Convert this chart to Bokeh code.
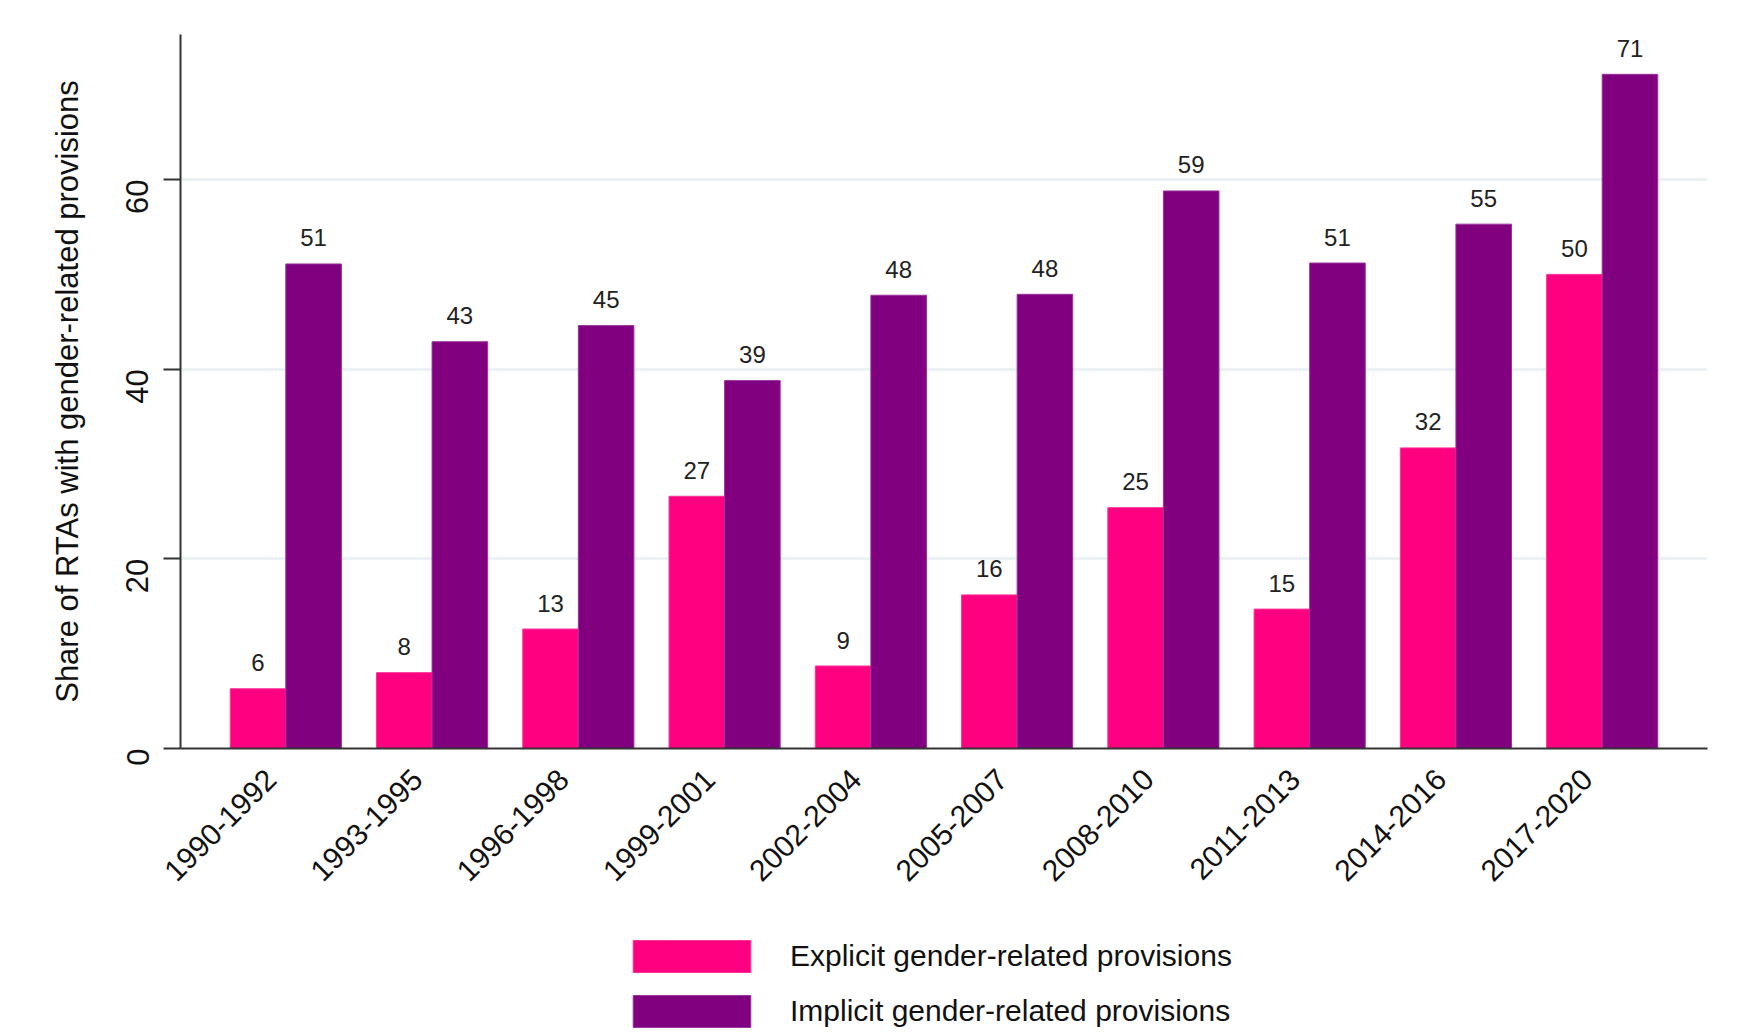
import math
from bokeh.plotting import figure
from bokeh.layouts import column
from bokeh.models import (ColumnDataSource, FixedTicker, Legend, LegendItem,
                          LinearAxis, Range1d)
from bokeh.transform import dodge
from bokeh.core.properties import value
from bokeh.embed import file_html
from bokeh.resources import INLINE

periods = ["1990-1992", "1993-1995", "1996-1998", "1999-2001", "2002-2004",
           "2005-2007", "2008-2010", "2011-2013", "2014-2016", "2017-2020"]
explicit = [6.3, 8.0, 12.6, 26.6, 8.7, 16.2, 25.4, 14.7, 31.7, 50.0]
implicit = [51.1, 42.9, 44.6, 38.8, 47.8, 47.9, 58.8, 51.2, 55.3, 71.1]
explicit_labels = ["6", "8", "13", "27", "9", "16", "25", "15", "32", "50"]
implicit_labels = ["51", "43", "45", "39", "48", "48", "59", "51", "55", "71"]
y_ticks = [0, 20, 40, 60]
series_names = ["Explicit gender-related provisions", "Implicit gender-related provisions"]

PINK = "#FF0080"
PURPLE = "#800080"
FONT = "Liberation Sans"
PAD = 0.22          # category padding on each side
LABEL_SHIFT = 0.10  # move rotated category labels slightly left of group centre

n = len(periods)
idx = list(range(n))
src = ColumnDataSource(dict(xi=idx, period=periods, explicit=explicit, implicit=implicit,
                            elab=explicit_labels, ilab=implicit_labels))

p = figure(x_range=Range1d(-0.5 - PAD, n - 0.5 + PAD),
           y_range=(0, 75.3), frame_width=1527, frame_height=714,
           output_backend="svg", toolbar_location=None,
           min_border_left=180, min_border_top=34, min_border_right=48,
           min_border_bottom=160)

bw = 0.38
r1 = p.vbar(x=dodge("xi", -bw / 2), top="explicit", width=bw,
            source=src, fill_color=PINK, line_color="#FF3399", line_width=1)
r2 = p.vbar(x=dodge("xi", bw / 2), top="implicit", width=bw,
            source=src, fill_color=PURPLE, line_color="#9A339A", line_width=1)

p.text(x=dodge("xi", -bw / 2), y="explicit", text="elab", source=src,
       text_align="center", text_baseline="alphabetic", y_offset=-26,
       text_font=value(FONT), text_font_size="24px", text_color="#222222")
p.text(x=dodge("xi", bw / 2), y="implicit", text="ilab", source=src,
       text_align="center", text_baseline="alphabetic", y_offset=-26,
       text_font=value(FONT), text_font_size="24px", text_color="#222222")

p.outline_line_color = None
p.xgrid.grid_line_color = None
p.ygrid.grid_line_color = "#EAF2F3"
p.ygrid.grid_line_width = 3
p.yaxis.ticker = FixedTicker(ticks=y_ticks)
p.xaxis.visible = False

# category label axis, nudged slightly left of the group centres
p.extra_x_ranges = {"lab": Range1d(start=-0.5 - PAD + LABEL_SHIFT,
                                   end=n - 0.5 + PAD + LABEL_SHIFT)}
xlab = LinearAxis(x_range_name="lab", ticker=FixedTicker(ticks=idx),
                  major_label_overrides={i: periods[i] for i in idx})
p.add_layout(xlab, "below")

for ax in (xlab, p.yaxis[0]):
    ax.axis_line_color = "#333333"
    ax.axis_line_width = 2
    ax.major_tick_line_color = "#333333"
    ax.major_tick_line_width = 2
    ax.minor_tick_line_color = None
    ax.major_label_text_font = FONT
    ax.major_label_text_color = "#111111"
    ax.axis_label_text_font = FONT
    ax.axis_label_text_font_style = "normal"
    ax.axis_label_text_color = "#111111"

p.yaxis.major_tick_out = 17
p.yaxis.major_tick_in = 0
p.yaxis.major_label_orientation = math.pi / 2
p.yaxis.major_label_text_font_size = "31px"
p.yaxis.major_label_standoff = 26
p.yaxis.axis_label = "Share of RTAs with gender-related provisions"
p.yaxis.axis_label_text_font_size = "31px"
p.yaxis.axis_label_standoff = 28

xlab.major_tick_line_color = None
xlab.major_label_orientation = math.pi / 4
xlab.major_label_text_font_size = "30px"
xlab.major_label_standoff = 20

# legend strip below the chart (swatch renderers sit outside the visible range)
p2 = figure(width=1755, height=123, x_range=(0, 1), y_range=(0, 1),
            output_backend="svg", toolbar_location=None,
            min_border_left=0, min_border_right=0, min_border_top=0, min_border_bottom=0)
p2.axis.visible = False
p2.grid.visible = False
p2.outline_line_color = None
k1 = p2.vbar(x=[-10], top=[-10], bottom=[-11], width=0.1,
             fill_color=PINK, line_color="#FF3399")
k2 = p2.vbar(x=[-10], top=[-10], bottom=[-11], width=0.1,
             fill_color=PURPLE, line_color="#9A339A")
legend = Legend(items=[LegendItem(label=series_names[0], renderers=[k1], index=0),
                       LegendItem(label=series_names[1], renderers=[k2], index=0)],
                orientation="vertical", location=(438, 0),
                glyph_width=147, glyph_height=40, label_standoff=25, spacing=15,
                label_text_font=FONT, label_text_font_size="30px",
                label_text_color="#111111", border_line_color=None,
                background_fill_alpha=0, padding=0, margin=0, label_height=40)
p2.add_layout(legend, "center")

open("out.html", "w").write(file_html(column(p, p2, spacing=0), INLINE))
